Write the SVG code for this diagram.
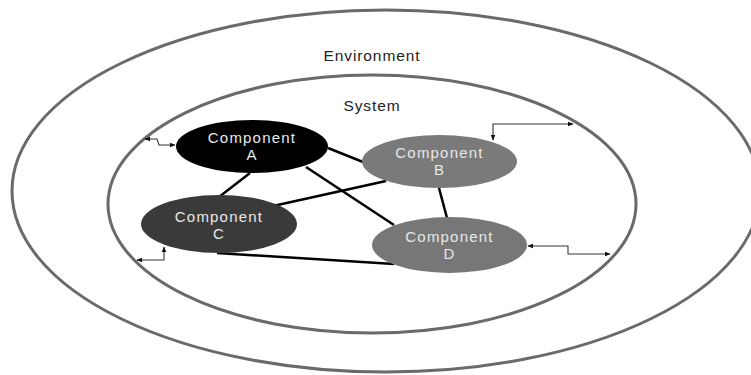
<svg xmlns="http://www.w3.org/2000/svg" width="751" height="375" viewBox="0 0 751 375">
<style>
.ring{fill:none;stroke:#6a6a6a;stroke-width:3}
.lbl{font-family:"Liberation Sans",Arial,sans-serif;font-size:15.5px;fill:#222;text-anchor:middle;letter-spacing:0.9px}
.nt{font-family:"Liberation Sans",Arial,sans-serif;font-size:15px;fill:#e8e8e8;text-anchor:middle;letter-spacing:1.2px}
.edge{stroke:#000;stroke-width:2.5;fill:none}
.io{stroke:#333;stroke-width:1.1;fill:none;marker-start:url(#ah);marker-end:url(#ah)}
</style>
<defs>
<marker id="ah" viewBox="0 0 10 10" refX="9" refY="5" markerWidth="6" markerHeight="6" markerUnits="userSpaceOnUse" orient="auto-start-reverse">
<path d="M0,1 L10,5 L0,9 Z" fill="#111"/>
</marker>
</defs>
<rect width="751" height="375" fill="#fff"/>
<g id="environment">
<ellipse class="ring" cx="386" cy="191" rx="374" ry="181"/>
<text class="lbl" x="372" y="61">Environment</text>
</g>
<g id="system">
<ellipse class="ring" cx="372" cy="204" rx="264" ry="129"/>
<text class="lbl" x="372" y="111">System</text>
</g>
<g id="connectors">
<line class="edge" x1="328" y1="148" x2="363" y2="162"/>
<line class="edge" x1="250" y1="173" x2="219" y2="197"/>
<line class="edge" x1="306" y1="167" x2="394" y2="225"/>
<line class="edge" x1="273" y1="206" x2="386" y2="181"/>
<line class="edge" x1="439" y1="188" x2="447" y2="218"/>
<line class="edge" x1="217" y1="253" x2="394" y2="264"/>
<path class="io" d="M145,139 H157 L159,145 H175"/>
<path class="io" d="M493,140 V124 H573"/>
<path class="io" d="M137,260 H164 V247"/>
<path class="io" d="M528,246 H568 V254 H610"/>
</g>
<g id="component-a">
<ellipse cx="252" cy="146.5" rx="76" ry="26.5" fill="#000"/>
<text class="nt" x="252" y="143">Component</text>
<text class="nt" x="252" y="160">A</text>
</g>
<g id="component-b">
<ellipse cx="439.5" cy="161.5" rx="77.5" ry="26.5" fill="#7a7a7a"/>
<text class="nt" x="439.5" y="158">Component</text>
<text class="nt" x="439.5" y="175">B</text>
</g>
<g id="component-c">
<ellipse cx="219" cy="224" rx="78" ry="29" fill="#3a3a3a"/>
<text class="nt" x="219" y="222">Component</text>
<text class="nt" x="219" y="239">C</text>
</g>
<g id="component-d">
<ellipse cx="449.5" cy="245" rx="77.5" ry="28" fill="#777"/>
<text class="nt" x="449.5" y="242">Component</text>
<text class="nt" x="449.5" y="259">D</text>
</g>
</svg>
